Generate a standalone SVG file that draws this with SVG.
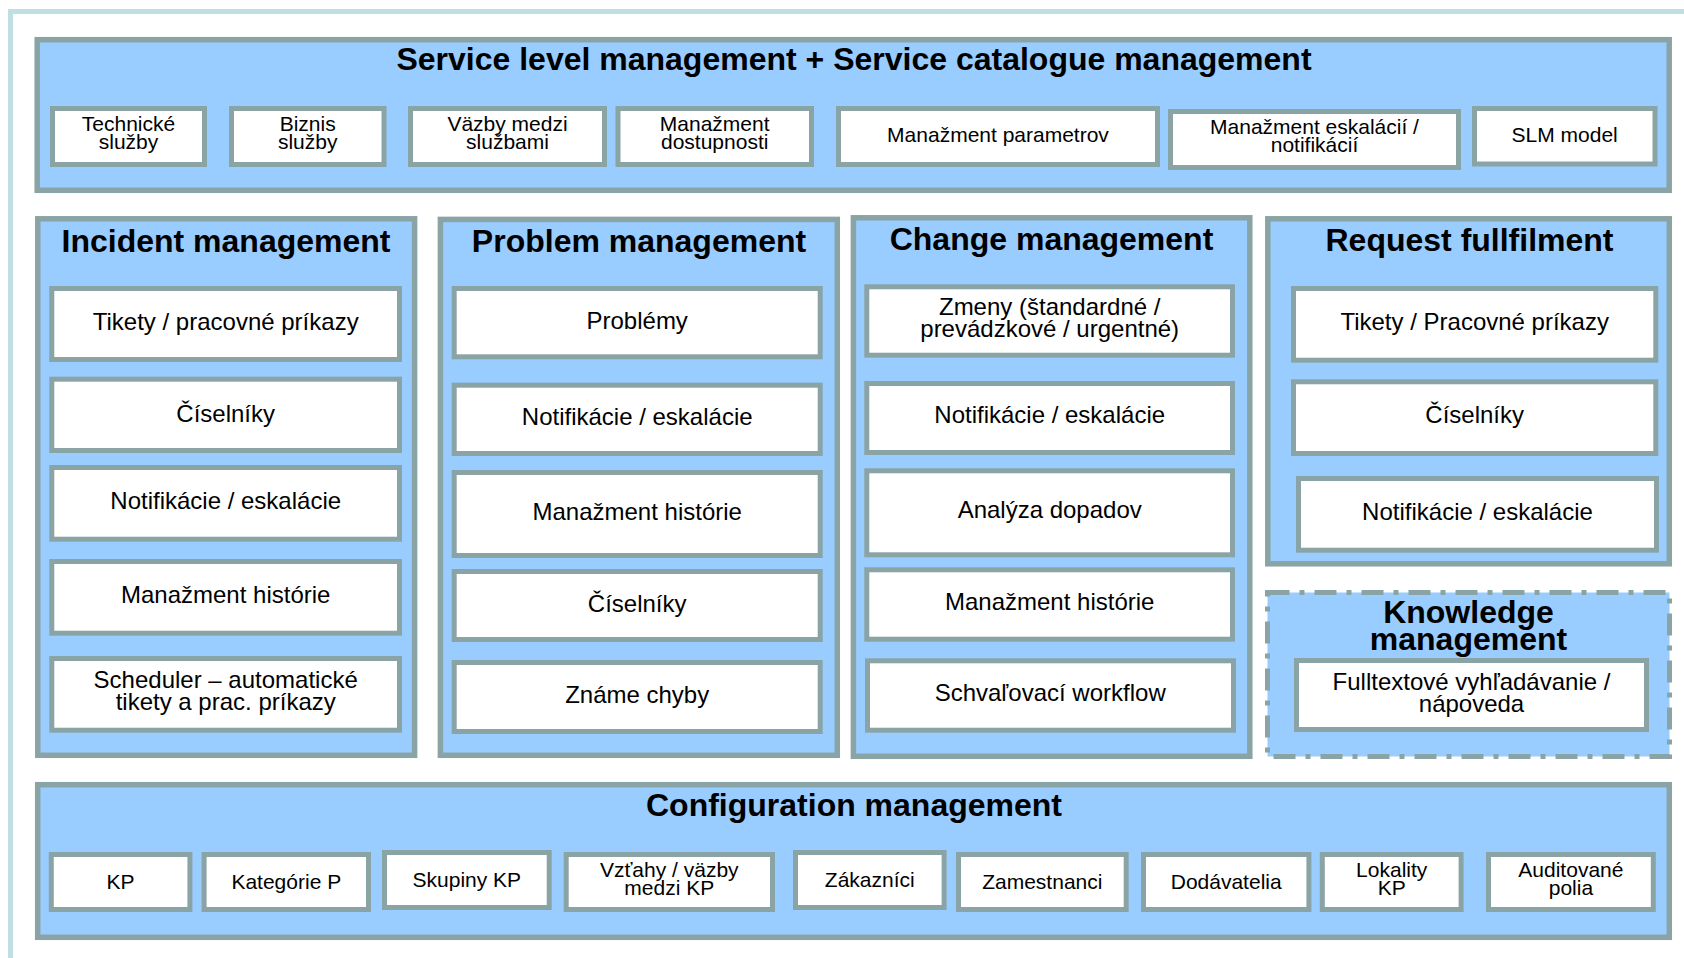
<svg xmlns="http://www.w3.org/2000/svg" width="1684" height="958" viewBox="0 0 1684 958">
<style>
.frame{fill:none;stroke:#bfe0e3;stroke-width:5}
.panel{fill:#99ccff;stroke:#8aa4a6;stroke-width:5.5}
.dash{fill:#99ccff;stroke:#8aa4a6;stroke-width:5;stroke-dasharray:22 10 5 10}
.item{fill:#ffffff;stroke:#8aa4a6;stroke-width:5}
text{font-family:"Liberation Sans",Arial,Helvetica,sans-serif;fill:#000;text-anchor:middle}
.h{font-size:32px;font-weight:bold}
.t{font-size:24px}
.s{font-size:21px}
</style>
<rect width="1684" height="958" fill="#ffffff"/>
<path class="frame" d="M10.5 958 V11.5 H1684"/>

<g id="slm">
<rect class="panel" x="37.2" y="39.7" width="1632" height="150.6"/>
<text class="h" x="854" y="70">Service level management + Service catalogue management</text>
<g id="slm-tech"><rect class="item" x="52.5" y="108.5" width="152" height="56"/><text class="s" x="128.5" y="131">Technické</text><text class="s" x="128.5" y="149">služby</text></g>
<g id="slm-biz"><rect class="item" x="231.5" y="108.5" width="152.5" height="56"/><text class="s" x="307.7" y="131">Biznis</text><text class="s" x="307.7" y="149">služby</text></g>
<g id="slm-vazby"><rect class="item" x="410.5" y="108.5" width="194" height="56"/><text class="s" x="507.5" y="131">Väzby medzi</text><text class="s" x="507.5" y="149">službami</text></g>
<g id="slm-dost"><rect class="item" x="618" y="108.5" width="193.5" height="56"/><text class="s" x="714.7" y="131">Manažment</text><text class="s" x="714.7" y="149">dostupnosti</text></g>
<g id="slm-param"><rect class="item" x="838.5" y="108.5" width="319" height="56"/><text class="s" x="998" y="142">Manažment parametrov</text></g>
<g id="slm-esk"><rect class="item" x="1170.5" y="111.5" width="288" height="56"/><text class="s" x="1314.5" y="134">Manažment eskalácií /</text><text class="s" x="1314.5" y="152">notifikácií</text></g>
<g id="slm-model"><rect class="item" x="1474.5" y="108.5" width="180.5" height="55.5"/><text class="s" x="1564.7" y="142">SLM model</text></g>
</g>

<g id="incident">
<rect class="panel" x="37.8" y="218.8" width="376.8" height="536.5"/>
<text class="h" x="226" y="251.5">Incident management</text>
<g id="inc-1"><rect class="item" x="51.8" y="288.5" width="347.7" height="71"/><text class="t" x="225.7" y="330">Tikety / pracovné príkazy</text></g>
<g id="inc-2"><rect class="item" x="51.8" y="379.2" width="347.7" height="71.3"/><text class="t" x="225.7" y="421.5">Číselníky</text></g>
<g id="inc-3"><rect class="item" x="51.8" y="467.5" width="347.7" height="71.7"/><text class="t" x="225.7" y="509">Notifikácie / eskalácie</text></g>
<g id="inc-4"><rect class="item" x="51.8" y="561.5" width="347.7" height="71.7"/><text class="t" x="225.7" y="603">Manažment histórie</text></g>
<g id="inc-5"><rect class="item" x="51.8" y="658.5" width="347.7" height="71.7"/><text class="t" x="225.7" y="688">Scheduler – automatické</text><text class="t" x="225.7" y="710">tikety a prac. príkazy</text></g>
</g>

<g id="problem">
<rect class="panel" x="440.4" y="219.4" width="396.9" height="535.9"/>
<text class="h" x="639" y="251.5">Problem management</text>
<g id="prb-1"><rect class="item" x="454.2" y="288.5" width="366" height="68.3"/><text class="t" x="637.2" y="328.5">Problémy</text></g>
<g id="prb-2"><rect class="item" x="454.2" y="385.2" width="366" height="68.3"/><text class="t" x="637.2" y="425">Notifikácie / eskalácie</text></g>
<g id="prb-3"><rect class="item" x="454.2" y="472.5" width="366" height="83"/><text class="t" x="637.2" y="520">Manažment histórie</text></g>
<g id="prb-4"><rect class="item" x="454.2" y="571.5" width="366" height="68"/><text class="t" x="637.2" y="611.5">Číselníky</text></g>
<g id="prb-5"><rect class="item" x="454.2" y="662.5" width="366" height="69"/><text class="t" x="637.2" y="703">Známe chyby</text></g>
</g>

<g id="change">
<rect class="panel" x="853.4" y="217.8" width="396.4" height="538.5"/>
<text class="h" x="1051.5" y="250">Change management</text>
<g id="chg-1"><rect class="item" x="866.8" y="286.8" width="365.7" height="68.4"/><text class="t" x="1049.7" y="315">Zmeny (štandardné /</text><text class="t" x="1049.7" y="337">prevádzkové / urgentné)</text></g>
<g id="chg-2"><rect class="item" x="866.8" y="383.5" width="365.7" height="69"/><text class="t" x="1049.7" y="423">Notifikácie / eskalácie</text></g>
<g id="chg-3"><rect class="item" x="866.8" y="470.8" width="365.7" height="84"/><text class="t" x="1049.7" y="518">Analýza dopadov</text></g>
<g id="chg-4"><rect class="item" x="866.8" y="569.8" width="365.7" height="69.4"/><text class="t" x="1049.7" y="610">Manažment histórie</text></g>
<g id="chg-5"><rect class="item" x="867.5" y="660.8" width="366" height="69.4"/><text class="t" x="1050.2" y="701">Schvaľovací workflow</text></g>
</g>

<g id="request">
<rect class="panel" x="1267.8" y="218.8" width="401.5" height="345"/>
<text class="h" x="1469.5" y="251">Request fullfilment</text>
<g id="req-1"><rect class="item" x="1293.5" y="288.5" width="362.3" height="71.7"/><text class="t" x="1474.7" y="330">Tikety / Pracovné príkazy</text></g>
<g id="req-2"><rect class="item" x="1293.5" y="381.8" width="362.3" height="71.7"/><text class="t" x="1474.7" y="423">Číselníky</text></g>
<g id="req-3"><rect class="item" x="1298.5" y="478.5" width="358" height="71.7"/><text class="t" x="1477.5" y="520">Notifikácie / eskalácie</text></g>
</g>

<g id="knowledge">
<rect class="dash" x="1267.5" y="592.5" width="402" height="164"/>
<text class="h" x="1468.5" y="623">Knowledge</text>
<text class="h" x="1468.5" y="650">management</text>
<g id="kn-1"><rect class="item" x="1296.5" y="660.5" width="350" height="69"/><text class="t" x="1471.5" y="690">Fulltextové vyhľadávanie /</text><text class="t" x="1471.5" y="712">nápoveda</text></g>
</g>

<g id="config">
<rect class="panel" x="37.7" y="784.7" width="1631.6" height="152.6"/>
<text class="h" x="854" y="816">Configuration management</text>
<g id="cfg-kp"><rect class="item" x="51.3" y="854.5" width="138.6" height="55"/><text class="s" x="120.6" y="889">KP</text></g>
<g id="cfg-kat"><rect class="item" x="204.1" y="854.5" width="164.4" height="55"/><text class="s" x="286.3" y="889">Kategórie P</text></g>
<g id="cfg-skup"><rect class="item" x="384.5" y="852.5" width="164.7" height="55"/><text class="s" x="466.8" y="887">Skupiny KP</text></g>
<g id="cfg-vztahy"><rect class="item" x="566.2" y="854.5" width="206.3" height="55"/><text class="s" x="669.3" y="877">Vzťahy / väzby</text><text class="s" x="669.3" y="895">medzi KP</text></g>
<g id="cfg-zak"><rect class="item" x="795.5" y="852.5" width="148.6" height="55"/><text class="s" x="869.8" y="887">Zákazníci</text></g>
<g id="cfg-zam"><rect class="item" x="958.5" y="854.5" width="167.7" height="55"/><text class="s" x="1042.3" y="889">Zamestnanci</text></g>
<g id="cfg-dod"><rect class="item" x="1143.5" y="854.5" width="165.4" height="55"/><text class="s" x="1226.2" y="889">Dodávatelia</text></g>
<g id="cfg-lok"><rect class="item" x="1322.3" y="854.5" width="138.8" height="55"/><text class="s" x="1391.7" y="877">Lokality</text><text class="s" x="1391.7" y="895">KP</text></g>
<g id="cfg-aud"><rect class="item" x="1488.5" y="854.5" width="164.8" height="55"/><text class="s" x="1570.9" y="877">Auditované</text><text class="s" x="1570.9" y="895">polia</text></g>
</g>

<g id="connectors"></g>
</svg>
